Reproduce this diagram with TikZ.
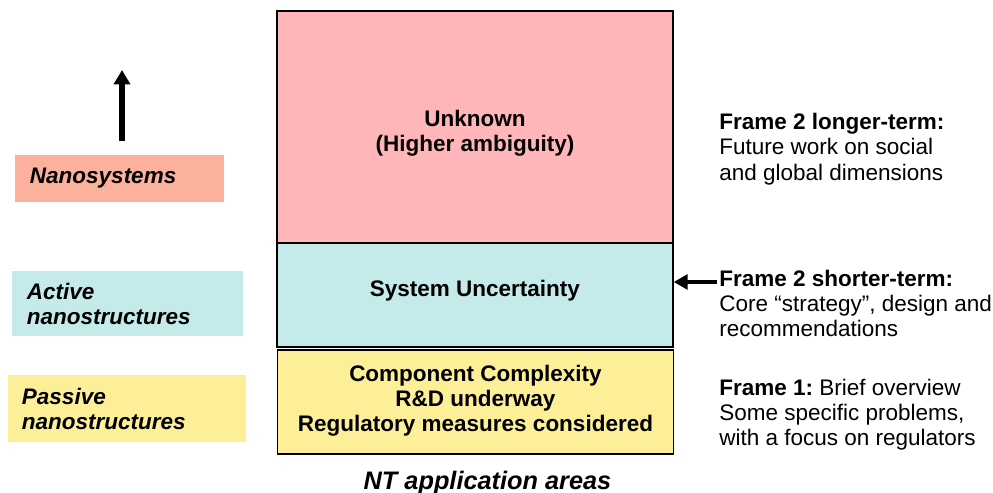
\documentclass[tikz,border=0pt]{standalone}
\usepackage{fontspec}
\setmainfont{Liberation Sans}
\usepackage{xcolor}
\usetikzlibrary{arrows.meta, positioning, calc}

\definecolor{pinkfill}{HTML}{FFB6B8}
\definecolor{cyanfill}{HTML}{C5EAEA}
\definecolor{yellowfill}{HTML}{FCEF98}
\definecolor{salmonfill}{HTML}{FCB19D}

\tikzstyle{arrow} = [line width=2.4pt, -{Triangle[length=0.35cm, width=0.37cm]}]

\begin{document}
\begin{tikzpicture}[x=0.025cm, y=-0.025cm]
\tikzstyle{level} = [rectangle, draw=black, line width=0.9pt, minimum width=9.9cm]
\tikzstyle{leveltext} = [anchor=north, inner sep=0pt, align=center, font=\bfseries\fontsize{16}{17.8}\selectfont]
\tikzstyle{tag} = [rectangle, inner xsep=0.375cm, align=left, font=\bfseries\itshape\fontsize{16}{17.8}\selectfont]
\tikzstyle{frame} = [anchor=north west, inner sep=0pt, align=left, font=\fontsize{16}{18}\selectfont]

\useasboundingbox (0,0) rectangle (993,493);

% central levels
\node (unknown) [level, fill=pinkfill, minimum height=5.8cm] at (475,127) {};
\node (system) [level, fill=cyanfill, minimum height=2.6cm] at (475,295) {};
\node (component) [level, fill=yellowfill, minimum height=2.6cm] at (475.5,402) {};
\node (unknowntext) [leveltext] at (475,110) {Unknown\\(Higher ambiguity)};
\node (systemtext) [leveltext] at (475,280) {System Uncertainty};
\node (componenttext) [leveltext] at (475.5,364.5) {Component Complexity\\R\&D underway\\Regulatory measures considered};
\node (areas) [anchor=base, font=\bfseries\itshape\fontsize{18}{20}\selectfont] at (487.5,489) {NT application areas};

% application tags
\node (nanosys) [tag, fill=salmonfill, minimum height=1.175cm, text width=4.475cm] at (119.5,178.5) {Nanosystems};
\node (active) [tag, fill=cyanfill, minimum height=1.625cm, text width=5.025cm] at (127.5,303.5) {Active\\nanostructures};
\node (passive) [tag, fill=yellowfill, minimum height=1.675cm, text width=5.25cm, inner xsep=0.35cm] at (127,408.5) {Passive\\nanostructures};

% frames
\node (longterm) [frame] at (719,113) {\textbf{Frame 2 longer-term:}\\Future work on social\\and global dimensions};
\node (shortterm) [frame] at (719,269.5) {\textbf{Frame 2 shorter-term:}\\Core “strategy”, design and\\recommendations};
\node (frameone) [frame] at (719,378.5) {\textbf{Frame 1:}\ Brief overview\\Some specific problems,\\with a focus on regulators};

\coordinate (upbase) at (122,141);
\coordinate (uptip) at (122,70);
\coordinate (leftbase) at (717,282);

\draw [line width=4.5pt, -{Triangle[length=0.36cm, width=0.4cm]}] (upbase) -- (uptip);
\draw [arrow] (leftbase) -- (leftbase -| system.east);

\end{tikzpicture}
\end{document}
